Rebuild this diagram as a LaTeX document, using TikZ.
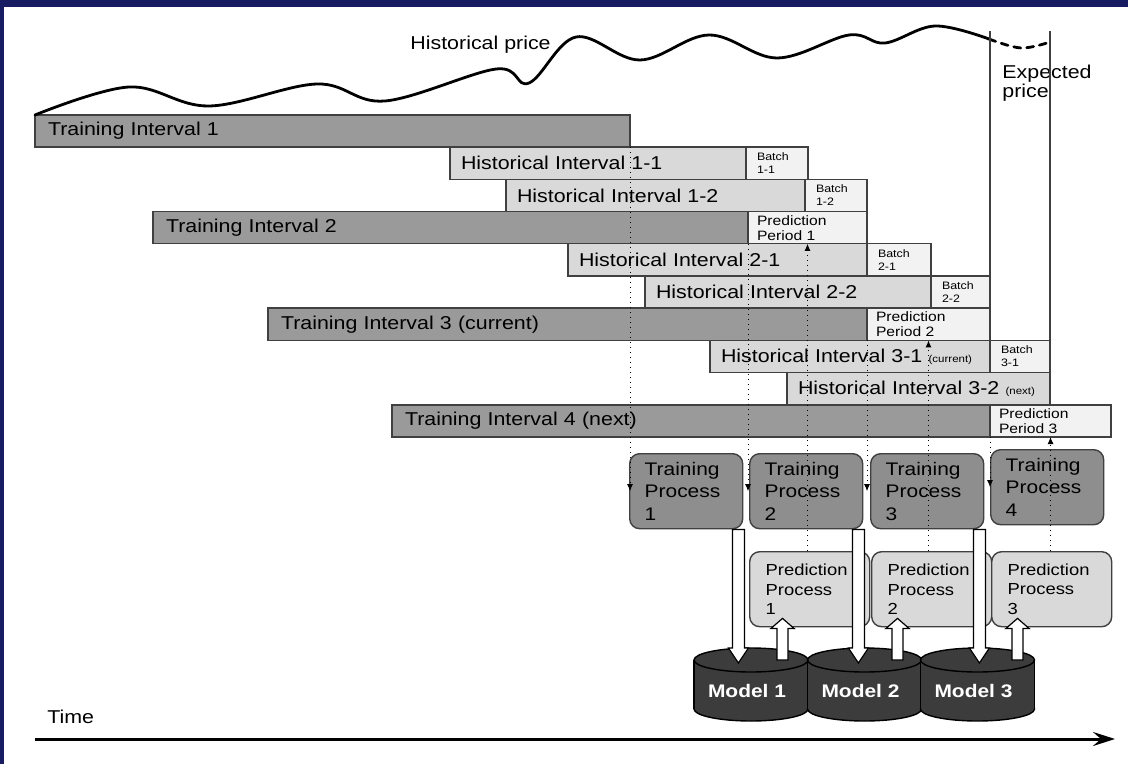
\documentclass[tikz,border=0pt]{standalone}
\usepackage{fontspec}
\setmainfont{Liberation Sans}[FakeStretch=1.15]
\usetikzlibrary{arrows.meta}
\usetikzlibrary{positioning}
\usetikzlibrary{calc}

\definecolor{navyback}{HTML}{161B62}
\definecolor{traingray}{HTML}{9A9A9A}
\definecolor{histgray}{HTML}{D9D9D9}
\definecolor{batchgray}{HTML}{F2F2F2}
\definecolor{procgray}{HTML}{8E8E8E}
\definecolor{modelgray}{HTML}{3C3C3C}
\definecolor{edgegray}{HTML}{404040}

\newcommand{\lblfont}{\fontsize{9.3}{9.5}\selectfont}
\newcommand{\procfont}{\fontsize{9.1}{11.25}\selectfont}
\newcommand{\predfont}{\fontsize{8}{9.75}\selectfont}
\newcommand{\periodfont}{\fontsize{6.8}{7.5}\selectfont}
\newcommand{\batchfont}{\fontsize{5.4}{6.5}\selectfont}
\newcommand{\notefont}{\fontsize{5}{6}\selectfont}
\newcommand{\modelfont}{\bfseries\fontsize{9.1}{11}\selectfont}

\begin{document}
\begin{tikzpicture}[x=0.5pt, y=-0.5pt]
		\tikzset{bar/.style = {draw=edgegray, line width=0.7pt, outer sep=0pt, inner xsep=5.5pt, inner ysep=0pt, minimum height=16.1pt, anchor=north west, align=left, font=\lblfont}}
		\tikzset{train/.style = {bar, fill=traingray, inner xsep=6.5pt, text width=#1}}
		\tikzset{hist/.style = {bar, fill=histgray, text width=#1}}
		\tikzset{batch/.style = {bar, fill=batchgray, text width=#1, font=\batchfont}}
		\tikzset{period/.style = {bar, fill=batchgray, inner xsep=4.5pt, text width=#1, font=\periodfont}}
		\tikzset{trainproc/.style = {draw=edgegray, line width=0.7pt, fill=procgray, rounded corners=5pt, anchor=north west, minimum height=37.5pt, text width=41.5pt, inner xsep=7.5pt, align=left, font=\procfont}}
		\tikzset{predproc/.style = {trainproc, fill=histgray, text width=44pt, inner xsep=8pt, font=\predfont}}
		\tikzset{cylbody/.style = {fill=modelgray, draw=black, line width=0.7pt}}
		\tikzset{blockarrow/.style = {fill=white, draw=black, line width=0.6pt, line join=miter}}
		\tikzset{dotarrow/.style = {dotted, line width=0.5pt, -{Latex[length=3.5pt, width=3pt]}}}
		\tikzset{price/.style = {line width=1.4pt, line cap=round}}
		\tikzset{guide/.style = {draw=edgegray, line width=0.6pt}}
		\tikzset{plain/.style = {inner sep=0pt, font=\lblfont}}
		
		\useasboundingbox (0,0) rectangle (1128,764);
		\fill[navyback] (0,0) rectangle (1128,764);
		\fill[white] (4,7) rectangle (1128,764);
		
		% labels
		\node[plain, anchor=base west] (hp) at (410,50) {Historical price};
		\node[plain, anchor=north west, align=left] (ep) at (1002,65) {Expected\\price};
		\node[plain, anchor=base west] (time) at (47,723) {Time};
		
		% intervals
		\node[train=284.5pt] (ti1) at (35,115) {Training Interval 1};
		\node[hist=137pt] (h11) at (450,147.2) {Historical Interval 1-1};
		\node[batch=20pt, right=0pt of h11] (b11) {Batch\\1-1};
		\node[hist=138.5pt] (h12) at (506,179.4) {Historical Interval 1-2};
		\node[batch=20pt, right=0pt of h12] (b12) {Batch\\1-2};
		\node[train=284.5pt] (ti2) at (153,211.6) {Training Interval 2};
		\node[period=50.5pt, right=0pt of ti2] (p1) {Prediction\\Period 1};
		\node[hist=138.5pt] (h21) at (568,243.8) {Historical Interval 2-1};
		\node[batch=21pt, right=0pt of h21] (b21) {Batch\\2-1};
		\node[hist=132pt] (h22) at (645,276) {Historical Interval 2-2};
		\node[batch=18.5pt, right=0pt of h22] (b22) {Batch\\2-2};
		\node[train=286.5pt] (ti3) at (268,308.2) {Training Interval 3 (current)};
		\node[period=52.5pt, right=0pt of ti3] (p2) {Prediction\\Period 2};
		\node[hist=129pt] (h31) at (710,340.4) {Historical Interval 3-1 {\notefont(current)}};
		\node[batch=19pt, right=0pt of h31] (b31) {Batch\\3-1};
		\node[hist=120.5pt] (h32) at (787,372.6) {Historical Interval 3-2 {\notefont(next)}};
		\node[train=286pt] (ti4) at (392,404.8) {Training Interval 4 (next)};
		\node[period=51.5pt, right=0pt of ti4] (p3) {Prediction\\Period 3};
		
		% price
		\draw[price] plot[smooth, tension=0.6] coordinates {(ti1.north west) (129,87) (209,106) (317,84) (385,101) (496,69) (529,83) (576,37) (640,60) (709,35) (777,58) (849,35) (885,43) (935,26) (989,39)};
		\draw[price, dash pattern=on 3.5pt off 3pt] plot[smooth, tension=0.6] coordinates {(989,39) (1021,48) (1050,42)};
		\coordinate (e0) at (990,31);
		\coordinate (e1) at (1050,31);
		\draw[guide] (e0) -- (b22.north east);
		\draw[guide] (e1) -- (b31.north east);
		
		% processes
		\node[trainproc] (tp1) at (629,453) {Training\\Process\\1};
		\node[trainproc] (tp2) at (749,453) {Training\\Process\\2};
		\node[trainproc] (tp3) at (870,453) {Training\\Process\\3};
		\node[trainproc] (tp4) at (990,449) {Training\\Process\\4};
		\node[predproc] (pp1) at (749,551) {Prediction\\Process\\1};
		\node[predproc] (pp2) at (871,551) {Prediction\\Process\\2};
		\node[predproc] (pp3) at (991,551) {Prediction\\Process\\3};
		
		% models
		\foreach \cx [count=\i] in {751, 864.5, 977.5} {
			\filldraw[cylbody] (\cx,709) ellipse [x radius=28.5pt, y radius=6pt];
			\fill[modelgray] (\cx-57,660) rectangle (\cx+57,709);
			\draw[line width=0.7pt] (\cx-57,660) -- (\cx-57,709) (\cx+57,660) -- (\cx+57,709);
			\filldraw[cylbody] (\cx,660) ellipse [x radius=28.5pt, y radius=6pt];
			\node[text=white, font=\modelfont] (m\i) at (\cx-4,691) {Model \i};
		}
		
		%edges
		\foreach \i in {1,2,3} {
			\coordinate (ds\i) at ($(tp\i.south east)+(-5,0)$);
			\coordinate (dt\i) at ($(ds\i |- m\i)+(0,-28)$);
			\draw[blockarrow] ($(ds\i)+(-6,0)$) -- ($(dt\i)+(-6,-15)$) -- ($(dt\i)+(-10,-15)$) -- (dt\i) -- ($(dt\i)+(10,-15)$) -- ($(dt\i)+(6,-15)$) -- ($(ds\i)+(6,0)$) -- cycle;
		}
		\foreach \i/\dx in {1/33.5, 2/26.5, 3/26.5} {
			\coordinate (ut\i) at ($(pp\i.south west)+(\dx,-9)$);
			\coordinate (us\i) at ($(ut\i |- m\i)+(0,-31)$);
			\draw[blockarrow] ($(us\i)+(-5.5,0)$) -- ($(ut\i)+(-5.5,10)$) -- ($(ut\i)+(-11.5,10)$) -- (ut\i) -- ($(ut\i)+(11.5,10)$) -- ($(ut\i)+(5.5,10)$) -- ($(us\i)+(5.5,0)$) -- cycle;
		}
		
		\foreach \i in {1,...,4}
			\draw[dotarrow] (ti\i.south east) -- (ti\i.south east |- tp\i.west);
		\foreach \i in {1,2,3}
			\draw[dotarrow] (p\i.south |- pp\i.north) -- (p\i.south);
		
		% time axis
		\coordinate (tstart) at (35,739);
		\coordinate (tend) at (1115,739);
		\draw[line width=1.5pt, -{Stealth[length=11pt, width=7pt, inset=4pt]}] (tstart) -- (tend);
		
\end{tikzpicture}
\end{document}
